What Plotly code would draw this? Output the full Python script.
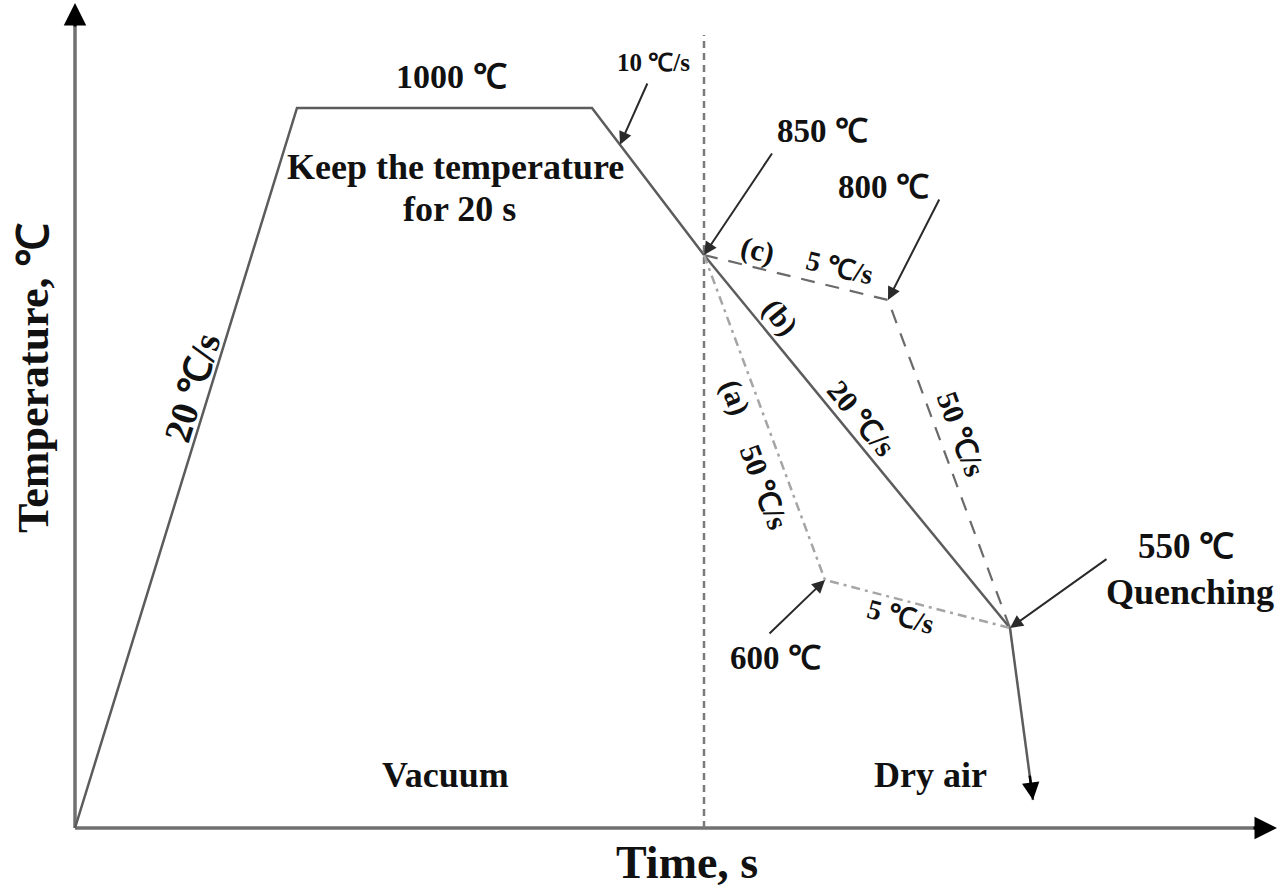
import plotly.graph_objects as go

# ---- schematic path values (time, temperature in drawing units) ----
main_time = [0, 222, 517, 629]          # heating start, reach 1000, end of hold, 850 split point
main_temp = [0, 720, 720, 573]
path_b_time = [629, 935]                  # (b) 20 C/s directly to 550
path_b_temp = [573, 200]
path_c_time = [629, 813, 935]             # (c) 5 C/s to 800 then 50 C/s to 550
path_c_temp = [573, 528, 200]
path_a_time = [629, 750, 935]             # (a) 50 C/s to 600 then 5 C/s to 550
path_a_temp = [573, 248, 200]
quench_time = [935, 958]
quench_temp = [200, 28]
boundary_time = 629
x_axis_end = 1202
y_axis_end = 825

FONT = "Liberation Serif, Times New Roman, serif"
LINE = "#5c5c5c"

fig = go.Figure()

# axes drawn as lines
fig.add_trace(go.Scatter(x=[0, 0], y=[0, y_axis_end - 20], mode="lines",
                         line=dict(color="#707070", width=3.5), hoverinfo="skip"))
fig.add_trace(go.Scatter(x=[0, x_axis_end - 20], y=[0, 0], mode="lines",
                         line=dict(color="#707070", width=3.5), hoverinfo="skip"))
# boundary vacuum / dry air
fig.add_trace(go.Scatter(x=[boundary_time, boundary_time], y=[0, 793], mode="lines",
                         line=dict(color="#7a7a7a", width=2.5, dash="7px,5px"), hoverinfo="skip"))
# main path
fig.add_trace(go.Scatter(x=main_time, y=main_temp, mode="lines",
                         line=dict(color=LINE, width=2.5), hoverinfo="skip"))
fig.add_trace(go.Scatter(x=path_b_time, y=path_b_temp, mode="lines",
                         line=dict(color=LINE, width=2.5), hoverinfo="skip"))
fig.add_trace(go.Scatter(x=path_c_time, y=path_c_temp, mode="lines",
                         line=dict(color="#6a6a6a", width=2.2, dash="14px,11px"), hoverinfo="skip"))
fig.add_trace(go.Scatter(x=path_a_time, y=path_a_temp, mode="lines",
                         line=dict(color="#a5a5a5", width=2.5, dash="9px,5px,3px,5px"), hoverinfo="skip"))
fig.add_trace(go.Scatter(x=quench_time, y=quench_temp, mode="lines",
                         line=dict(color=LINE, width=2.5), hoverinfo="skip"))

ann = []


def arrow(tail, head, color="#2a2a2a", width=2, size=1.3):
    ann.append(dict(x=head[0], y=head[1], ax=tail[0], ay=tail[1], xref="x", yref="y",
                    axref="x", ayref="y", text="", showarrow=True, arrowhead=2,
                    arrowsize=size, arrowwidth=width, arrowcolor=color, standoff=0))


def label(x, y, text, size=30, angle=0):
    ann.append(dict(x=x, y=y, xref="x", yref="y", text="<b>" + text + "</b>", showarrow=False,
                    textangle=angle, font=dict(family=FONT, size=size, color="#111111"),
                    xanchor="center", yanchor="middle"))


# axis arrowheads
arrow((0, y_axis_end - 25), (0, y_axis_end), color="#000000", width=3, size=1.5)
arrow((x_axis_end - 25, 0), (x_axis_end, 0), color="#000000", width=3, size=1.5)
# quench arrowhead
qt = quench_time[0] + 0.85 * (quench_time[1] - quench_time[0])
qy = quench_temp[0] + 0.85 * (quench_temp[1] - quench_temp[0])
arrow((qt, qy), (quench_time[1], quench_temp[1]), color="#000000", width=2.5, size=1.4)

# pointer arrows
f = 0.25
p10 = (main_time[2] + f * (main_time[3] - main_time[2]), main_temp[2] + f * (main_temp[3] - main_temp[2]))
arrow((573, 746), p10)
arrow((698, 676), (main_time[3], main_temp[3]))
arrow((865, 630), (path_c_time[1], path_c_temp[1]))
arrow((693, 193), (path_a_time[1], path_a_temp[1]))
arrow((1033, 270), (path_b_time[1], path_b_temp[1]))

# labels
label(376, 752, "1000 ℃", 34)
label(578, 766, "10 ℃/s", 25)
label(380, 661, "Keep the temperature", 36)
label(384, 619, "for 20 s", 36)
label(747, 697, "850 ℃", 33)
label(808, 641, "800 ℃", 33)
label(682, 578, "(c)", 30, 13.7)
label(765, 561, "5 ℃/s", 28, 13.7)
label(705, 511, "(b)", 30, 50.6)
label(787, 410, "20 ℃/s", 30, 50.6)
label(887, 394, "50 ℃/s", 30, 69.6)
label(660, 431, "(a)", 30, 69.6)
label(690, 341, "50 ℃/s", 30, 69.6)
label(826, 212, "5 ℃/s", 28, 14.5)
label(700, 170, "600 ℃", 33)
label(1111, 282, "550 ℃", 35)
label(1115, 236, "Quenching", 36)
label(117, 440, "20 ℃/s", 38, -72.9)
label(370, 53, "Vacuum", 36)
label(855, 53, "Dry air", 36)
label(-42, 450, "Temperature, ℃", 44, -90)
label(612, -34, "Time, s", 46)

fig.update_layout(
    width=1280, height=889,
    margin=dict(l=0, r=0, t=0, b=0),
    paper_bgcolor="white", plot_bgcolor="white",
    showlegend=False,
    xaxis=dict(range=[-75, 1205], visible=False, fixedrange=True),
    yaxis=dict(range=[-61, 828], visible=False, fixedrange=True),
    annotations=ann,
)

fig.write_html("out.html",
               config={"displayModeBar": False},
               post_script="document.body.style.margin='0';document.body.style.overflow='hidden';")
